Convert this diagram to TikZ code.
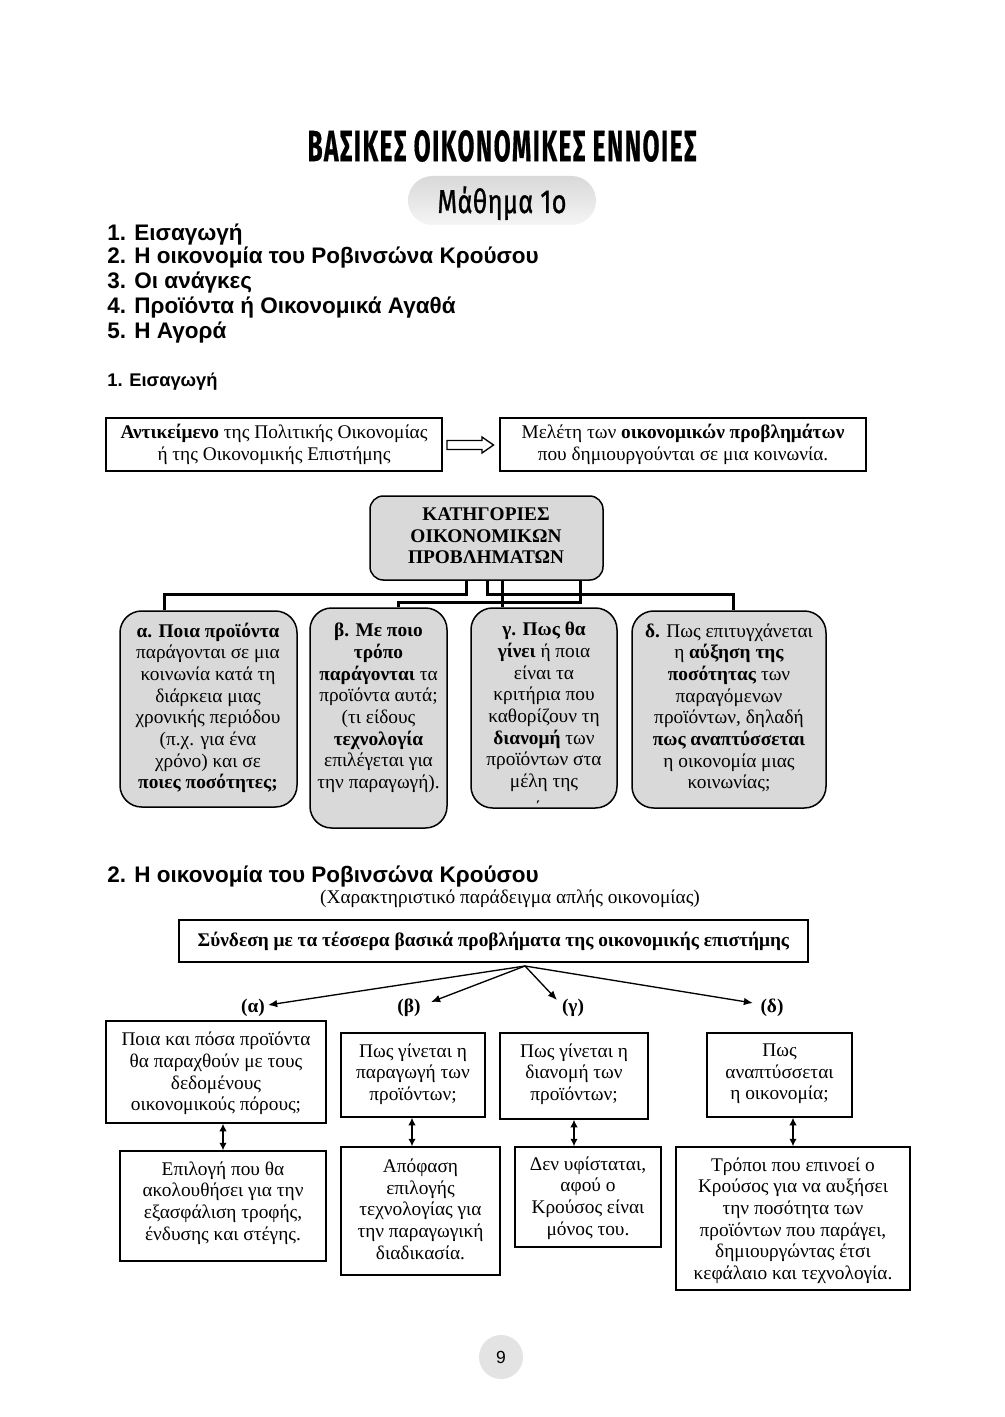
\documentclass[tikz,border=0pt]{standalone}
\usepackage{fontspec}
\usepackage{graphicx}
\setmainfont{Liberation Serif}
\newfontfamily\arialf{Liberation Sans}
\newfontfamily\condt[LetterSpace=6,FakeBold=0.6]{Fira Sans}
\newfontfamily\condm[LetterSpace=1.5,FakeBold=1]{Fira Sans}
\usetikzlibrary{arrows.meta,fit}
\definecolor{catgray}{gray}{0.85}
\begin{document}
\begin{tikzpicture}[x=0.6pt,y=-0.6pt,
  box/.style={draw, line width=0.9pt, inner sep=0pt},
  rbox/.style={draw, line width=0.9pt, fill=catgray, rounded corners=13pt, inner sep=0pt},
  txt/.style={font=\fontsize{11.6}{13}\selectfont, align=center, inner sep=0pt},
  lst/.style={font=\arialf\bfseries\fontsize{13.5}{15}\selectfont, anchor=west, inner sep=0pt},
  sec/.style={font=\arialf\bfseries\fontsize{11}{12}\selectfont, anchor=west, inner sep=0pt},
  conn/.style={line width=1.8pt, line join=miter},
  arr/.style={line width=0.8pt, -{Latex[length=5.5pt,width=4.5pt]}},
  dbl/.style={line width=0.8pt, {Latex[length=4.5pt,width=4.5pt]}-{Latex[length=4.5pt,width=4.5pt]}}
]
\useasboundingbox (0,0) rectangle (1004,1417);
\fill[white] (0,0) rectangle (1004,1417);

% title
\node[inner sep=0pt] (title) at (502,146) {\resizebox{233.4pt}{18.6pt}{\condt\bfseries ΒΑΣΙΚΕΣ ΟΙΚΟΝΟΜΙΚΕΣ ΕΝΝΟΙΕΣ}};
\node[rounded corners=14.7pt, minimum width=112.8pt, minimum height=29.4pt, top color=gray!30, bottom color=gray!8, inner sep=0pt] (pill) at (502,200.5) {};
\node[inner sep=0pt, anchor=base] (lesson) at (502,213) {\resizebox{77.4pt}{16pt}{\condm Μάθημα 1ο}};

% list
\node[lst] (l1) at (107,235) {1. Εισαγωγή};
\node[lst] (l2) at (107,258) {2. Η οικονομία του Ροβινσώνα Κρούσου};
\node[lst] (l3) at (107,283) {3. Οι ανάγκες};
\node[lst] (l4) at (107,308) {4. Προϊόντα ή Οικονομικά Αγαθά};
\node[lst] (l5) at (107,333) {5. Η Αγορά};
\node[sec] (s1) at (107,382) {1. Εισαγωγή};

% top boxes
\node[box, fit={(106,418) (442,471)}] (ob) {};
\node[txt] (obt) at (ob.center) {\textbf{Αντικείμενο} της Πολιτικής Οικονομίας\\ ή της Οικονομικής Επιστήμης};
\node[box, fit={(500,418) (866,471)}] (mb) {};
\node[txt] (mbt) at (mb.center) {Μελέτη των \textbf{οικονομικών προβλημάτων}\\ που δημιουργούνται σε μια κοινωνία.};
\draw[line width=0.8pt, line join=miter] (447,440.5) -- (482,440.5) -- (482,437) -- (493.5,445) -- (482,453) -- (482,449.5) -- (447,449.5) -- cycle;

% categories
\node[rbox, rounded corners=8pt, fit={(370,496) (603,580)}] (head) {};
\node[txt] (headt) at (486,536) {\textbf{ΚΑΤΗΓΟΡΙΕΣ}\\ \textbf{ΟΙΚΟΝΟΜΙΚΩΝ}\\ \textbf{ΠΡΟΒΛΗΜΑΤΩΝ}};
\node[rbox, fit={(120,611) (297,807)}] (ca) {};
\node[rbox, fit={(310,608) (447,828)}] (cb) {};
\node[rbox, fit={(471,608) (617,808)}] (cg) {};
\node[rbox, fit={(632,611) (826,808)}] (cd) {};
\node[txt] (cat) at (208,708) {\textbf{α. Ποια προϊόντα}\\ παράγονται σε μια\\ κοινωνία κατά τη\\ διάρκεια μιας\\ χρονικής περιόδου\\ (π.χ. για ένα\\ χρόνο) και σε\\ \textbf{ποιες ποσότητες;}};
\node[txt] (cbt) at (378.5,708) {\textbf{β. Με ποιο}\\ \textbf{τρόπο}\\ \textbf{παράγονται} τα\\ προϊόντα αυτά;\\ (τι είδους\\ \textbf{τεχνολογία}\\ επιλέγεται για\\ την παραγωγή).};
\node[txt] (cgt) at (544,707) {\textbf{γ. Πως θα}\\ \textbf{γίνει} ή ποια\\ είναι τα\\ κριτήρια που\\ καθορίζουν τη\\ \textbf{διανομή} των\\ προϊόντων στα\\ μέλη της};
\node[txt, anchor=north] (cgm) at (538,801) {΄};
\node[txt] (cdt) at (729,708) {\textbf{δ.} Πως επιτυγχάνεται\\ η \textbf{αύξηση της}\\ \textbf{ποσότητας} των\\ παραγόμενων\\ προϊόντων, δηλαδή\\ \textbf{πως αναπτύσσεται}\\ η οικονομία μιας\\ κοινωνίας;};
\draw[conn] (466,0 |- head.south) -- (466,594) -- (164,594) -- (164,0 |- ca.north);
\draw[conn] (487,0 |- head.south) -- (487,594) -- (733,594) -- (733,0 |- cd.north);
\draw[conn] (502,0 |- head.south) -- (502,0 |- cg.north);
\draw[conn] (580,0 |- head.south) -- (580,602) -- (398,602) -- (398,0 |- cb.north);

% section 2
\node[lst] (s2) at (107,877) {2. Η οικονομία του Ροβινσώνα Κρούσου};
\node[txt] (sub) at (510,899) {(Χαρακτηριστικό παράδειγμα απλής οικονομίας)};
\node[box, fit={(179,920) (808,962)}] (sy) {};
\node[txt] (syt) at (sy.center) {\textbf{Σύνδεση με τα τέσσερα βασικά προβλήματα της οικονομικής επιστήμης}};
\node[txt, font=\bfseries\fontsize{11.6}{13}\selectfont] (la) at (253,1008) {(α)};
\node[txt, font=\bfseries\fontsize{11.6}{13}\selectfont] (lb) at (409,1008) {(β)};
\node[txt, font=\bfseries\fontsize{11.6}{13}\selectfont] (lg) at (573,1008) {(γ)};
\node[txt, font=\bfseries\fontsize{11.6}{13}\selectfont] (ld) at (772,1008) {(δ)};
\coordinate (src) at (525,966);
\draw[arr] (src) -- (268,1005);
\draw[arr] (src) -- (431,1002);
\draw[arr] (src) -- (557,1000);
\draw[arr] (src) -- (753,1003);

\node[box, fit={(106,1021) (326,1123)}] (a1) {};
\node[box, fit={(341,1033) (485,1117)}] (b1) {};
\node[box, fit={(500,1033) (648,1119)}] (c1) {};
\node[box, fit={(707,1033) (852,1117)}] (d1) {};
\node[txt] (a1t) at (216,1073.5) {Ποια και πόσα προϊόντα\\ θα παραχθούν με τους\\ δεδομένους\\ οικονομικούς πόρους;};
\node[txt] (b1t) at (413,1074) {Πως γίνεται η\\ παραγωγή των\\ προϊόντων;};
\node[txt] (c1t) at (574,1074) {Πως γίνεται η\\ διανομή των\\ προϊόντων;};
\node[txt] (d1t) at (779.5,1074) {Πως\\ αναπτύσσεται\\ η οικονομία;};

\node[box, fit={(120,1151) (326,1261)}] (a2) {};
\node[box, fit={(341,1147) (500,1275)}] (b2) {};
\node[box, fit={(515,1147) (661,1247)}] (c2) {};
\node[box, fit={(676,1147) (910,1290)}] (d2) {};
\node[txt] (a2t) at (223,1203) {Επιλογή που θα\\ ακολουθήσει για την\\ εξασφάλιση τροφής,\\ ένδυσης και στέγης.};
\node[txt] (b2t) at (420.5,1209) {Απόφαση\\ επιλογής\\ τεχνολογίας για\\ την παραγωγική\\ διαδικασία.};
\node[txt] (c2t) at (588,1198) {Δεν υφίσταται,\\ αφού ο\\ Κρούσος είναι\\ μόνος του.};
\node[txt] (d2t) at (793,1220.5) {Τρόποι που επινοεί ο\\ Κρούσος για να αυξήσει\\ την ποσότητα των\\ προϊόντων που παράγει,\\ δημιουργώντας έτσι\\ κεφάλαιο και τεχνολογία.};

\draw[dbl] (a2.north |- a1.south) -- (a2.north);
\draw[dbl] (412,0 |- b1.south) -- (412,0 |- b2.north);
\draw[dbl] (c1.south) -- (c1.south |- c2.north);
\draw[dbl] (d2.north |- d1.south) -- (d2.north);

% page number
\node[circle, fill=gray!22, minimum size=26.4pt, inner sep=0pt, font=\arialf\fontsize{10.5}{12}\selectfont] (pg) at (501,1357) {9};
\end{tikzpicture}
\end{document}
